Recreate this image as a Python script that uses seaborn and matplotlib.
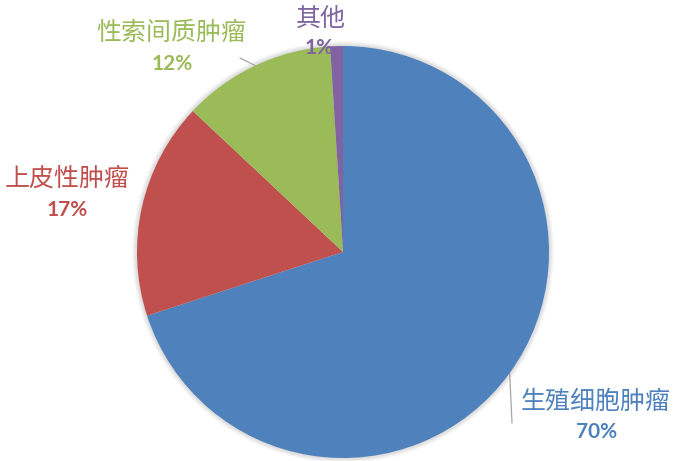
import numpy as np
import matplotlib
matplotlib.use("Agg")
import matplotlib.pyplot as plt
import seaborn as sns
from matplotlib.patches import Circle

# data
categories = ["生殖细胞肿瘤", "上皮性肿瘤", "性索间质肿瘤", "其他"]
shares = [70, 17, 12, 1]
colors = ["#4F81BD", "#C0504D", "#9BBB59", "#8064A2"]

sns.set_theme(style="white")
plt.rcParams["font.family"] = ["Noto Sans CJK SC", "DejaVu Sans"]

W, H = 678, 461
cx, cy, R = 343, 252, 206  # pie centre / radius in pixels

fig = plt.figure(figsize=(W / 100, H / 100), dpi=100)
ax = fig.add_axes([0, 0, 1, 1])


def px(x, y):
    # pixel position -> data coords
    return (x - cx) / R, (cy - y) / R


# soft shadow round the pie
for i in range(6):
    ax.add_patch(Circle((0, 0), 1 + 0.004 * (i + 1), color="black",
                        alpha=0.025, lw=0, zorder=0))

wedges, _ = ax.pie(shares, colors=colors, startangle=90, counterclock=False,
                   radius=1, wedgeprops=dict(linewidth=0))
for w in wedges:
    w.set_zorder(2)

ax.set_aspect("auto")
ax.set_xlim(-cx / R, (W - cx) / R)
ax.set_ylim(-(H - cy) / R, cy / R)
ax.axis("off")

# label layout (pixel centres of name / percent lines, leader end or None)
layout = {
    "生殖细胞肿瘤": ((596, 402), (597, 432), (512, 423)),
    "上皮性肿瘤": ((67, 179), (67, 210), None),
    "性索间质肿瘤": ((171, 33), (172, 64), (240, 58)),
    "其他": ((321, 19), (319, 48), None),
}

for w, name, val, col in zip(wedges, categories, shares, colors):
    (nx, ny), (vx, vy), lead = layout[name]
    ax.text(*px(nx, ny), name, color=col, fontsize=18, fontweight="light",
            ha="center", va="center")
    ax.text(*px(vx, vy), f"{val}%", color=col, fontsize=15, fontweight="bold",
            family="Lato", ha="center", va="center")
    if lead is not None:
        mid = np.deg2rad((w.theta1 + w.theta2) / 2)
        ex, ey = px(*lead)
        ax.plot([np.cos(mid), ex], [np.sin(mid), ey], color="#A6A6A6",
                lw=0.9, zorder=1)

fig.savefig("out.png", dpi=100)
